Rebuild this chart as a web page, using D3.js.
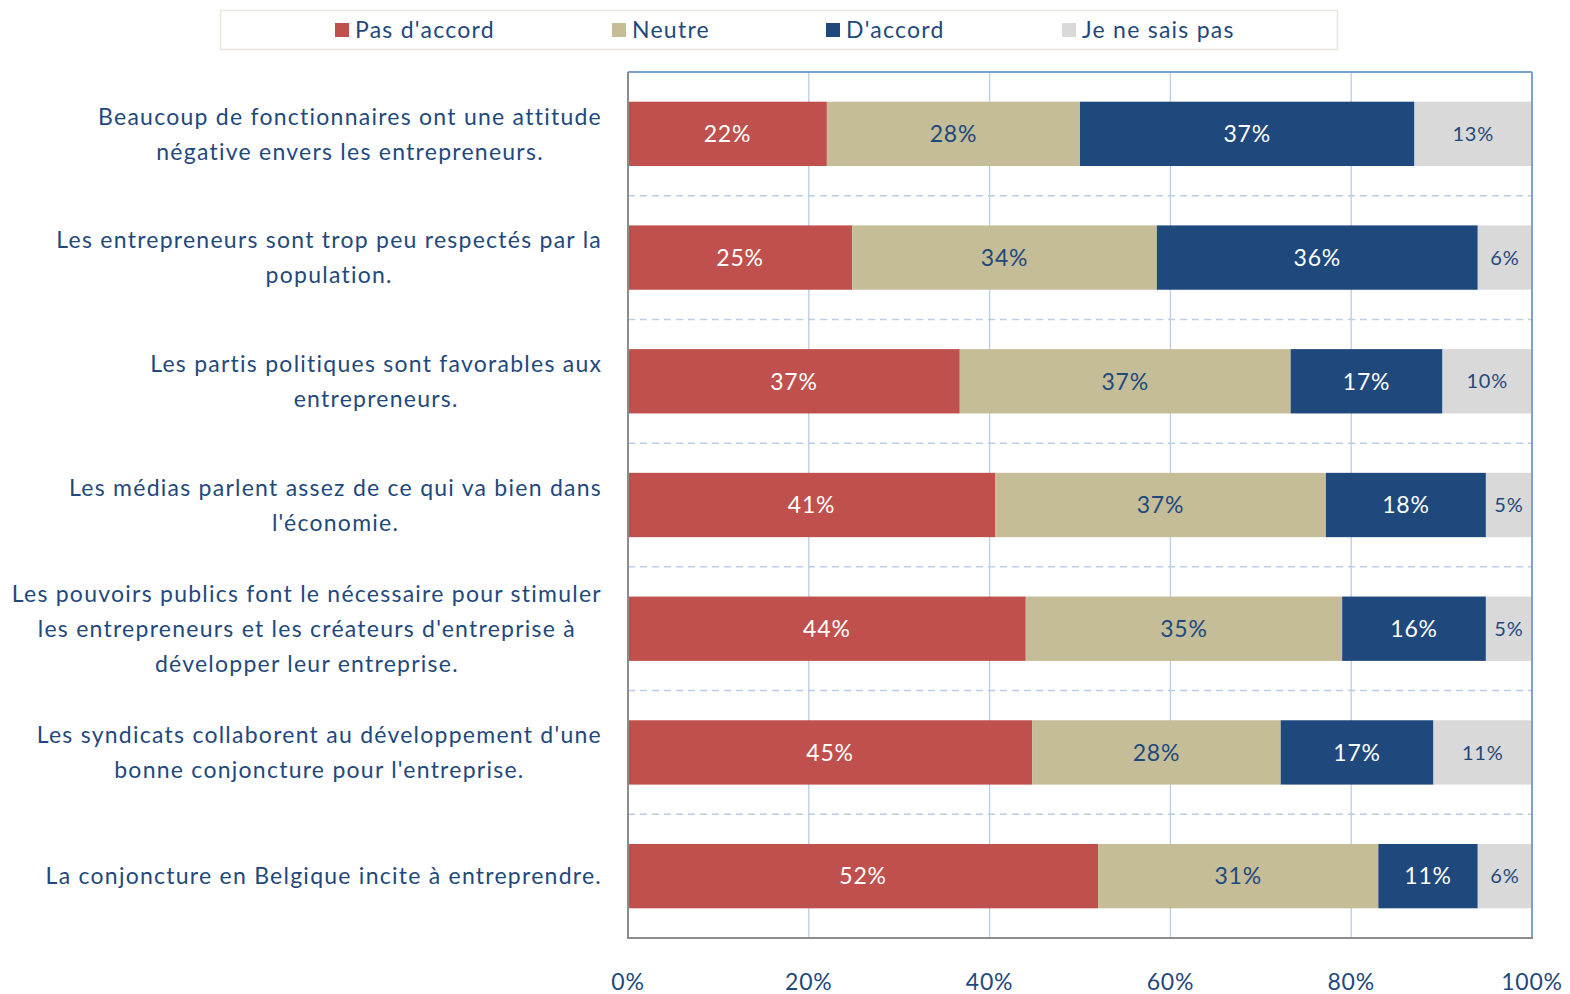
<!DOCTYPE html>
<html>
<head>
<meta charset="utf-8">
<script src="https://cdn.jsdelivr.net/npm/d3@7"></script>
<style>
  body { margin: 0; background: #fff; }
  svg text { font-family: Lato, "Open Sans", sans-serif; }
</style>
</head>
<body>
<script>
// chart values
var categories = [
  "Beaucoup de fonctionnaires ont une attitude\nnégative envers les entrepreneurs.",
  "Les entrepreneurs sont trop peu respectés par la\npopulation.",
  "Les partis politiques sont favorables aux\nentrepreneurs.",
  "Les médias parlent assez de ce qui va bien dans\nl'économie.",
  "Les pouvoirs publics font le nécessaire pour stimuler\nles entrepreneurs et les créateurs d'entreprise à\ndévelopper leur entreprise.",
  "Les syndicats collaborent au développement d'une\nbonne conjoncture pour l'entreprise.",
  "La conjoncture en Belgique incite à entreprendre."
];
var seriesNames = ["Pas d'accord", "Neutre", "D'accord", "Je ne sais pas"];
var pasDaccord = [22.0, 24.8, 36.7, 40.6, 44.0, 44.7, 52.0];
var neutre     = [28.0, 33.7, 36.6, 36.6, 35.0, 27.5, 31.0];
var daccord    = [37.0, 35.5, 16.8, 17.7, 15.9, 16.9, 11.0];
var neSaisPas  = [13.0, 6.0, 9.9, 5.1, 5.1, 10.9, 6.0];
var xTicks = [0, 20, 40, 60, 80, 100];

var colors = ["#c0504d", "#c4bd97", "#1f497d", "#d9d9d9"];
var labelColors = ["#ffffff", "#1f497d", "#ffffff", "#1f497d"];
var textBlue = "#1f497d";

var width = 1570, height = 994;
var plot = {left: 628, right: 1532, top: 72, bottom: 938};

var svg = d3.select("body").append("svg")
    .attr("width", width)
    .attr("height", height);

var x = d3.scaleLinear().domain([0, 100]).range([plot.left, plot.right]);
var y = d3.scaleBand().domain(d3.range(categories.length))
    .range([plot.top, plot.bottom])
    .paddingInner(0.48).paddingOuter(0.24);

// build stacked rows
var rows = categories.map(function(c, i){
  return {i: i, 0: pasDaccord[i], 1: neutre[i], 2: daccord[i], 3: neSaisPas[i]};
});
var stack = d3.stack().keys([0, 1, 2, 3]);
var layers = stack(rows);

// vertical grid lines
svg.append("g").selectAll("line")
  .data(xTicks.slice(1, -1))
  .join("line")
    .attr("x1", function(d){ return x(d); })
    .attr("x2", function(d){ return x(d); })
    .attr("y1", plot.top).attr("y2", plot.bottom)
    .attr("stroke", "#b9cde5").attr("stroke-width", 1.3);

// dashed row separators
var step = y.step();
svg.append("g").selectAll("line")
  .data(d3.range(1, categories.length))
  .join("line")
    .attr("x1", plot.left).attr("x2", plot.right)
    .attr("y1", function(d){ return plot.top + d * step; })
    .attr("y2", function(d){ return plot.top + d * step; })
    .attr("stroke", "#b9cde5").attr("stroke-width", 1.5)
    .attr("stroke-dasharray", "7,5");

// bars
var g = svg.append("g").selectAll("g")
  .data(layers)
  .join("g")
    .attr("fill", function(d){ return colors[d.key]; });

g.selectAll("rect")
  .data(function(d){ return d; })
  .join("rect")
    .attr("x", function(d){ return x(d[0]); })
    .attr("width", function(d){ return x(d[1]) - x(d[0]); })
    .attr("y", function(d, i){ return y(i); })
    .attr("height", y.bandwidth());

// value labels
layers.forEach(function(layer){
  svg.append("g").selectAll("text")
    .data(layer)
    .join("text")
      .attr("x", function(d){ return (x(d[0]) + x(d[1])) / 2; })
      .attr("y", function(d, i){ return y(i) + y.bandwidth() / 2; })
      .attr("dy", "0.36em")
      .attr("text-anchor", "middle")
      .attr("fill", labelColors[layer.key])
      .style("font-size", layer.key == 3 ? "20px" : "23px")
      .style("letter-spacing", "0.8px")
      .text(function(d){ return Math.round(d[1] - d[0]) + "%"; });
});

// frame: left/bottom grey, top/right blue
svg.append("line").attr("x1", plot.left).attr("x2", plot.right).attr("y1", plot.top).attr("y2", plot.top)
  .attr("stroke", "#7aa0d4").attr("stroke-width", 2);
svg.append("line").attr("x1", plot.right).attr("x2", plot.right).attr("y1", plot.top).attr("y2", plot.bottom)
  .attr("stroke", "#7aa0d4").attr("stroke-width", 2);
svg.append("line").attr("x1", plot.left).attr("x2", plot.left).attr("y1", plot.top).attr("y2", plot.bottom + 1)
  .attr("stroke", "#8c8c8c").attr("stroke-width", 2);
svg.append("line").attr("x1", plot.left).attr("x2", plot.right + 1).attr("y1", plot.bottom).attr("y2", plot.bottom)
  .attr("stroke", "#8c8c8c").attr("stroke-width", 2);

// x axis tick labels
svg.append("g").selectAll("text")
  .data(xTicks)
  .join("text")
    .attr("x", function(d){ return x(d); })
    .attr("y", 990)
    .attr("text-anchor", "middle")
    .attr("fill", textBlue)
    .style("font-size", "23px")
    .style("letter-spacing", "0.8px")
    .text(function(d){ return d + "%"; });

// category labels: block right-aligned, lines centred within the block
var labelRight = 602, lineH = 35;
categories.forEach(function(c, i){
  var lines = c.split("\n");
  var t = svg.append("text")
      .attr("fill", textBlue)
      .style("font-size", "23px")
      .style("letter-spacing", "1.25px");
  var spans = t.selectAll("tspan").data(lines).join("tspan").text(function(d){ return d; });
  var maxW = 0;
  spans.each(function(){ maxW = Math.max(maxW, this.getComputedTextLength()); });
  var cx = labelRight - maxW / 2;
  var cy = y(i) + y.bandwidth() / 2;
  spans.attr("x", cx)
    .attr("text-anchor", "middle")
    .attr("y", function(d, k){ return cy + (k - (lines.length - 1) / 2) * lineH; })
    .attr("dy", "0.36em");
});

// legend
svg.append("rect")
  .attr("x", 220.5).attr("y", 10.5).attr("width", 1117).attr("height", 39)
  .attr("fill", "#fff").attr("stroke", "#e8e6dc").attr("stroke-width", 1.5);
var legendX = [335, 612, 826, 1062];
var lg = svg.append("g").selectAll("g")
  .data(seriesNames)
  .join("g")
    .attr("transform", function(d, i){ return "translate(" + legendX[i] + ",30)"; });
lg.append("rect")
  .attr("x", 0).attr("y", -7).attr("width", 14).attr("height", 14)
  .attr("fill", function(d, i){ return colors[i]; });
lg.append("text")
  .attr("x", 20).attr("dy", "0.36em")
  .attr("fill", textBlue)
  .style("font-size", "23px")
  .style("letter-spacing", "1.25px")
  .text(function(d){ return d; });
</script>
</body>
</html>
